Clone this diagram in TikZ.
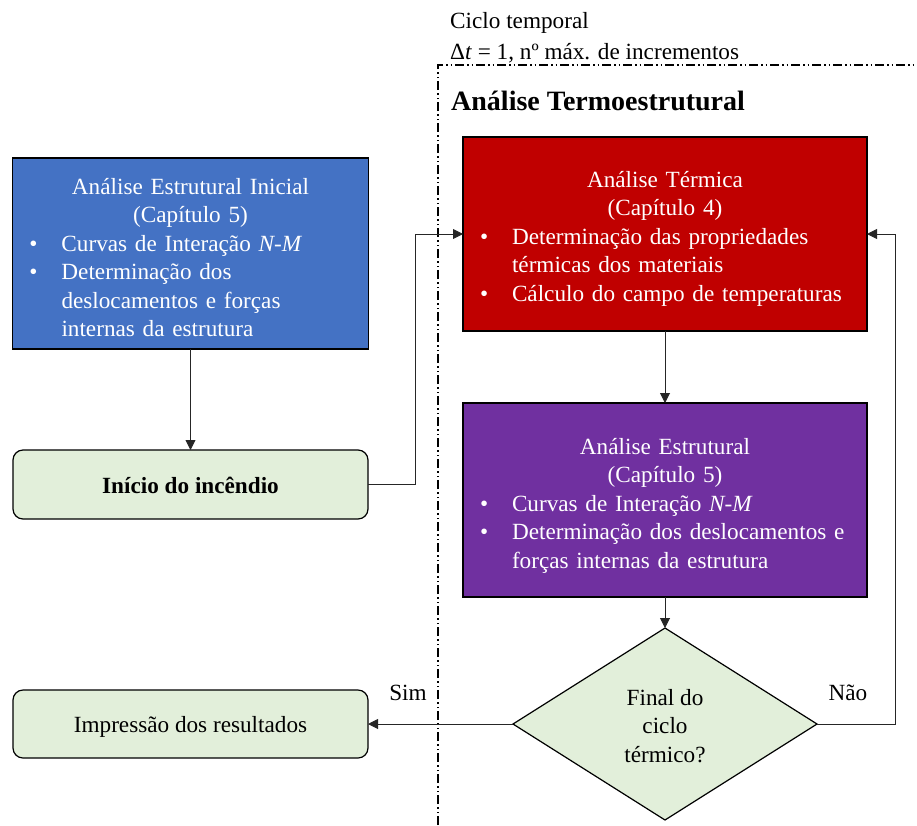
\documentclass[tikz,border=0pt]{standalone}
\usepackage{fontspec}
\setmainfont{Liberation Serif}
\usetikzlibrary{arrows.meta,shapes.geometric}

\definecolor{boxblue}{HTML}{4472C4}
\definecolor{boxred}{HTML}{C00000}
\definecolor{boxpurple}{HTML}{7030A0}
\definecolor{boxgreen}{HTML}{E2EFDA}

% bullet item: bullet hangs 32pt left of the text column
\newcommand{\bul}{\par\noindent\hspace*{-32pt}\makebox[32pt][l]{•}}
\newcommand{\boxfont}{\fontsize{23.2}{28.5}\selectfont}

\tikzset{
  x=1pt, y=1pt,
  procbox/.style={draw=black, line width=1.2pt, rectangle, inner sep=0pt, outer sep=0pt},
  roundbox/.style={draw=black, line width=1.2pt, rectangle, rounded corners=10pt,
    fill=boxgreen, inner sep=0pt, outer sep=0pt},
  boxtext/.style={inner sep=0pt, anchor=base, align=left, text=white, font=\boxfont},
  conn/.style={line width=0.9pt, draw=black!85, -{Triangle[length=10pt,width=10pt]}},
  plain/.style={inner sep=0pt, font=\boxfont},
  frameline/.style={line width=1.3pt,
    dash pattern=on 9pt off 3pt on 1.5pt off 3pt on 1.5pt off 3pt}
}

\begin{document}
\begin{tikzpicture}
\useasboundingbox (0,0) rectangle (917,-825);

% time-cycle frame
\coordinate (fb) at (438,-825);
\coordinate (fc) at (438,-65);
\coordinate (fr) at (917,-65);
\draw[frameline] (fb) -- (fc) -- (fr);

\node[plain, anchor=base west] (cic1) at (450,-28) {Ciclo temporal};
\node[plain, anchor=base west] (cic2) at (450,-59) {Δ\textit{t} = 1, nº máx. de incrementos};
\node[inner sep=0pt, anchor=base west, font=\fontsize{28}{32}\selectfont\bfseries] (ttl) at (451,-110) {Análise Termoestrutural};

% process boxes
\node[procbox, fill=boxblue, minimum width=356pt, minimum height=191pt] (ini) at (190.5,-253.5) {};
\node[boxtext, text width=356pt] (tini) at (190.5,-194) {%
  {\centering Análise Estrutural Inicial\\(Capítulo 5)\par}
  \leftskip=49pt\rightskip=0pt plus 1fil
  \bul Curvas de Interação \textit{N-M}
  \bul Determinação dos\\deslocamentos e forças\\internas da estrutura\par};

\node[procbox, fill=boxred, minimum width=404pt, minimum height=194pt] (ter) at (665,-234) {};
\node[boxtext, text width=404pt] (tter) at (665,-187) {%
  {\centering Análise Térmica\\(Capítulo 4)\par}
  \leftskip=49pt\rightskip=0pt plus 1fil
  \bul Determinação das propriedades\\térmicas dos materiais
  \bul Cálculo do campo de temperaturas\par};

\node[procbox, fill=boxpurple, minimum width=404pt, minimum height=194pt] (est) at (665,-500) {};
\node[boxtext, text width=404pt] (test) at (665,-454) {%
  {\centering Análise Estrutural\\(Capítulo 5)\par}
  \leftskip=49pt\rightskip=0pt plus 1fil
  \bul Curvas de Interação \textit{N-M}
  \bul Determinação dos deslocamentos e\\forças internas da estrutura\par};

\node[roundbox, minimum width=355pt, minimum height=69pt] (inc) at (190.5,-484.5) {};
\node[plain, anchor=base] (tinc) at (190.5,-493) {\textbf{Início do incêndio}};
\node[roundbox, minimum width=355pt, minimum height=68pt] (imp) at (190.5,-724) {};
\node[plain, anchor=base] (timp) at (190.5,-732) {Impressão dos resultados};

% decision
\node[diamond, draw=black, line width=1.2pt, fill=boxgreen, inner sep=0pt, outer sep=0pt,
  minimum width=304pt, minimum height=192pt, aspect=1.583] (dec) at (665,-724) {};
\node[plain, align=center] (tdec) at (665,-726) {Final do\\ciclo\\térmico?};

\node[plain] (sim) at (408,-693) {Sim};
\node[plain] (nao) at (848,-693) {Não};

% connectors
\draw[conn] (ini.south) -- (inc.north);
\draw[conn] (inc.east) -- ++(47,0) |- (ter.west);
\draw[conn] (ter.south) -- (est.north);
\draw[conn] (est.south) -- (dec.north);
\draw[conn] (dec.east) -- ++(78,0) |- (ter.east);
\draw[conn] (dec.west) -- (imp.east);
\end{tikzpicture}
\end{document}
